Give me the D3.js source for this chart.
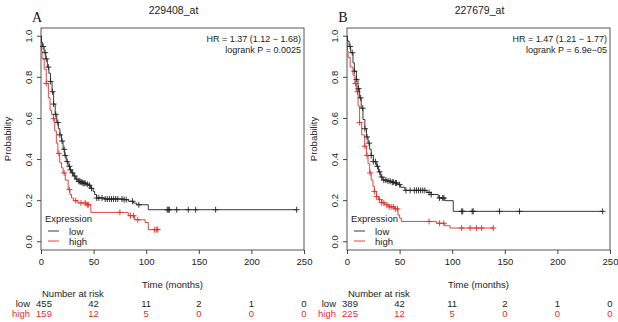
<!DOCTYPE html>
<html><head><meta charset="utf-8">
<script src="https://cdn.jsdelivr.net/npm/d3@7"></script>
<style>body{margin:0;background:#fff}svg{display:block}</style>
</head><body><svg id="c" width="618" height="322" font-family="Liberation Sans, Arial, sans-serif"></svg>
<script>
// ---------- data ----------
const xTicks = [0, 50, 100, 150, 200, 250];
const yTicks = [0, 0.2, 0.4, 0.6, 0.8, 1.0];
const groups = ["low", "high"];

// Panel A (229408_at)
const titleA = "229408_at";
const hrA = ["HR = 1.37 (1.12 \u2212 1.68)", "logrank P = 0.0025"];
const riskLowA = [455, 42, 11, 2, 1, 0];
const riskHighA = [159, 12, 5, 0, 0, 0];
const timeLowA = [0,0.5,1.5,3,4.5,6,7.5,9,10.5,12,13.5,15,16.5,18,19.5,21,22.5,24,25.8,27.5,29,31,33,35.3,38,40,43,45,47,49.6,51,52.8,60,78,83,88,91,102];
const survLowA = [1,0.97,0.95,0.92,0.89,0.85,0.82,0.78,0.73,0.67,0.62,0.58,0.55,0.52,0.49,0.45,0.42,0.39,0.367,0.35,0.335,0.32,0.305,0.294,0.29,0.285,0.28,0.275,0.26,0.245,0.23,0.213,0.208,0.205,0.197,0.188,0.18,0.156];
const endLowA = 243;
const censLowA = [2,4,5,7,9,11,12,14,16,18,20,22,23,25,27,28,30,32,34,36,37,38,39,40,41,42,44,46,48,53,55,58,61,63,65,67,69,71,73,77,79,81,87,93,120,121,122,129,140,147,166,243];
const timeHighA = [0,0.5,1,3,5,7,8.6,10,11.8,13,14.6,16,17.8,19.5,21,23,25.8,27.5,29,31,35,43,47.4,83,89,99,102];
const survHighA = [1,0.93,0.89,0.84,0.77,0.70,0.64,0.62,0.60,0.54,0.48,0.43,0.384,0.36,0.335,0.30,0.254,0.23,0.213,0.20,0.189,0.18,0.143,0.127,0.107,0.094,0.059];
const endHighA = 112;
const censHighA = [5,12,17,22,27,33,38,42,44,45,75,85,88,92,108,110,111];

// Panel B (227679_at)
const titleB = "227679_at";
const hrB = ["HR = 1.47 (1.21 \u2212 1.77)", "logrank P = 6.9e\u221205"];
const riskLowB = [389, 42, 11, 2, 1, 0];
const riskHighB = [225, 12, 5, 0, 0, 0];
const timeLowB = [0,0.5,2,3.5,5.7,7,8.9,10.5,12,13.5,15.2,17,18.5,20,21.5,23,25,27.9,30,32,34,38,42,45,48.5,51,55,76,80,86.7,93,101];
const survLowB = [1,0.977,0.95,0.92,0.87,0.83,0.79,0.745,0.70,0.65,0.595,0.55,0.51,0.48,0.45,0.42,0.39,0.367,0.34,0.315,0.30,0.295,0.29,0.286,0.278,0.265,0.25,0.24,0.23,0.213,0.20,0.148];
const endLowB = 243;
const censLowB = [3,5,7,9,11,13,15,17,19,21,23,25,27,29,31,33,35,37,39,41,43,44,46,47,50,56,60,64,66,68,70,72,74,78,80,88,91,92,109,110,119,120,145,164,243];
const timeHighB = [0,0.5,1,3,5.7,7.5,8.9,10.5,12,14,16.8,18.5,20,21.5,23,24.7,26,28,30,33,36,40,45,48.5,50,51.6,85,93,98];
const survHighB = [1,0.93,0.896,0.85,0.81,0.77,0.73,0.66,0.58,0.52,0.465,0.42,0.38,0.335,0.30,0.27,0.245,0.22,0.205,0.19,0.18,0.17,0.16,0.13,0.115,0.099,0.09,0.078,0.067];
const endHighB = 140;
const censHighB = [8,10,12,17,19,22,26,28,31,33,35,38,40,42,44,46,48,78,88,92,109,117,123,128,139];

// ---------- drawing ----------
const svg = d3.select("#c");
const BLACK = "#222", RED = "#e0302c";

function survAt(times, surv, t) {
  let v = surv[0];
  for (let i = 0; i < times.length; i++) if (times[i] <= t) v = surv[i];
  return v;
}

function panel(o) {
  const g = svg.append("g");
  const x = d3.scaleLinear().domain([0, 250]).range([o.left, o.right]);
  const y = d3.scaleLinear().domain([-0.04, 1.04]).range([250, 28]);

  // title & letter
  g.append("text").attr("x", (o.left + o.right) / 2 + 1).attr("y", 14).attr("text-anchor", "middle")
    .attr("font-size", 10.5).attr("fill", "#222").text(o.title);
  g.append("text").attr("x", o.letterX).attr("y", 22).attr("text-anchor", "middle")
    .style("font-family", "'Liberation Serif', 'Times New Roman', serif").attr("font-size", 14).attr("fill", "#111").text(o.letter);

  // box
  g.append("rect").attr("x", o.left).attr("y", 28).attr("width", o.right - o.left).attr("height", 222)
    .attr("fill", "none").attr("stroke", "#444").attr("stroke-width", 0.9);

  // x axis
  const xa = g.append("g").attr("transform", "translate(0,250)")
    .call(d3.axisBottom(x).tickValues(xTicks).tickSize(4).tickPadding(4).tickFormat(d3.format("d")));
  xa.select(".domain").remove();
  xa.selectAll("line").attr("stroke", "#444");
  xa.selectAll("text").attr("font-size", 9.5).attr("fill", "#222").attr("font-family", "Liberation Sans, Arial, sans-serif");

  // y axis
  const ya = g.append("g").attr("transform", `translate(${o.left},0)`)
    .call(d3.axisLeft(y).tickValues(yTicks).tickSize(4).tickFormat(d3.format(".1f")));
  ya.select(".domain").remove();
  ya.selectAll(".tick").attr("transform", "translate(0,0)");
  ya.selectAll(".tick line").attr("stroke", "#444").attr("y1", d => y(d)).attr("y2", d => y(d)).attr("x2", -4);
  ya.selectAll(".tick text").attr("font-size", 9.5).attr("fill", "#222").attr("font-family", "Liberation Sans, Arial, sans-serif")
    .attr("text-anchor", "middle").attr("x", null).attr("dy", null).attr("y", 0)
    .attr("transform", d => `translate(-9,${y(d)}) rotate(-90)`);

  g.append("text").attr("transform", `translate(${o.left - 30},139) rotate(-90)`).attr("text-anchor", "middle")
    .attr("font-size", 9.5).attr("fill", "#222").text("Probability");

  // HR text
  o.hr.forEach((s, i) => g.append("text").attr("x", o.right - 3).attr("y", 42 + i * 10.5)
    .attr("text-anchor", "end").attr("font-size", 9).attr("fill", "#222").text(s));

  // curves
  const curves = [
    {t: o.tHigh, s: o.sHigh, end: o.eHigh, c: o.cHigh, col: RED},
    {t: o.tLow, s: o.sLow, end: o.eLow, c: o.cLow, col: BLACK}
  ];
  curves.forEach(cv => {
    const pts = cv.t.map((t, i) => [t, cv.s[i]]);
    pts.push([cv.end, cv.s[cv.s.length - 1]]);
    const line = d3.line().x(d => x(d[0])).y(d => y(d[1])).curve(d3.curveStepAfter);
    g.append("path").attr("d", line(pts)).attr("fill", "none").attr("stroke", cv.col).attr("stroke-width", 0.9);
    cv.c.forEach(t => {
      const px = x(t), py = y(survAt(cv.t, cv.s, t));
      g.append("line").attr("x1", px).attr("x2", px).attr("y1", py - 3).attr("y2", py + 3).attr("stroke", cv.col).attr("stroke-width", 0.9);
      g.append("line").attr("x1", px - 3).attr("x2", px + 3).attr("y1", py).attr("y2", py).attr("stroke", cv.col).attr("stroke-width", 0.9);
    });
  });

  // legend
  g.append("text").attr("x", o.left + 4).attr("y", 222).attr("font-size", 9.5).attr("fill", "#222").text("Expression");
  groups.forEach((nm, i) => {
    const yy = 231 + i * 10;
    const col = i === 0 ? BLACK : RED;
    g.append("line").attr("x1", o.left + 7).attr("x2", o.left + 18).attr("y1", yy).attr("y2", yy).attr("stroke", col).attr("stroke-width", 0.9);
    g.append("text").attr("x", o.left + 28).attr("y", yy + 3.5).attr("font-size", 9.5).attr("fill", "#222").text(nm);
  });

  // x label
  g.append("text").attr("x", (o.left + o.right) / 2).attr("y", 288).attr("text-anchor", "middle")
    .attr("font-size", 9.5).attr("fill", "#222").text("Time (months)");

  // risk table
  g.append("text").attr("x", o.left + 1).attr("y", 297).attr("font-size", 9.5).attr("fill", "#222").text("Number at risk");
  [[o.rLow, "low", "#222"], [o.rHigh, "high", RED]].forEach((r, i) => {
    const yy = 307 + i * 10;
    g.append("text").attr("x", o.left - 11).attr("y", yy).attr("text-anchor", "end").attr("font-size", 9.5).attr("fill", r[2]).text(r[1]);
    r[0].forEach((v, j) => g.append("text").attr("x", x(xTicks[j]) + (j === 0 ? 3 : 0)).attr("y", yy)
      .attr("text-anchor", "middle").attr("font-size", 9.5).attr("fill", r[2]).text(v));
  });
}

panel({left: 41, right: 304, letterX: 37, letter: "A", title: titleA, hr: hrA,
  tLow: timeLowA, sLow: survLowA, eLow: endLowA, cLow: censLowA,
  tHigh: timeHighA, sHigh: survHighA, eHigh: endHighA, cHigh: censHighA,
  rLow: riskLowA, rHigh: riskHighA});
panel({left: 347, right: 610, letterX: 343, letter: "B", title: titleB, hr: hrB,
  tLow: timeLowB, sLow: survLowB, eLow: endLowB, cLow: censLowB,
  tHigh: timeHighB, sHigh: survHighB, eHigh: endHighB, cHigh: censHighB,
  rLow: riskLowB, rHigh: riskHighB});
</script></body></html>
